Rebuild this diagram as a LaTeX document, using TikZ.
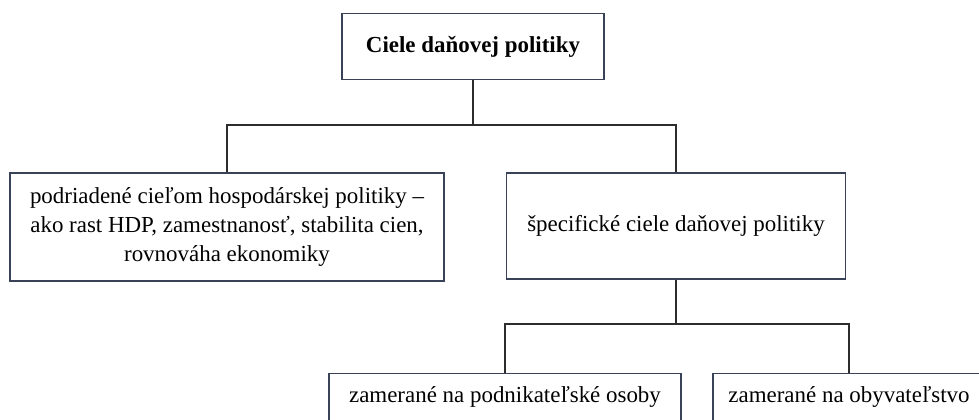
\documentclass[tikz,border=0pt]{standalone}
\usepackage{fontspec}
\setmainfont{Liberation Serif}
\definecolor{box_c}{RGB}{58,66,88}
\definecolor{line_c}{RGB}{45,45,45}
\usepackage{tikz}
\usetikzlibrary{positioning}

\begin{document}
\begin{tikzpicture}[
			x=0.75pt, y=-0.75pt,
			box/.style = {draw=box_c, line width=0.8pt, align=center,
				font=\fontsize{17.2}{21.5}\selectfont, inner sep=3pt},
			leaf/.style = {box, anchor=north, text height=18pt, text depth=40pt, inner ysep=3.5pt},
			link/.style = {draw=line_c, line width=0.8pt},
			]
			\useasboundingbox (0,0) rectangle (979,420);
			\clip (0,0) rectangle (979,420);
			% boxes
			\node[box, minimum width=196.5pt, minimum height=50pt,
				font=\fontsize{17.2}{21.5}\selectfont\bfseries] (goals) at (473,46.5) {Ciele daňovej politiky};
			\node[box, minimum width=325.5pt, minimum height=81pt] (sub) at (227,227)
				{podriadené cieľom hospodárskej politiky –\\ako rast HDP, zamestnanosť, stabilita cien,\\rovnováha ekonomiky};
			\node[box, minimum width=254pt, minimum height=79.5pt] (spec) at (676,226) {špecifické ciele daňovej politiky};
			\node[leaf, minimum width=264pt] (firms) at (505,373) {zamerané na podnikateľské osoby};
			\node[leaf, minimum width=204pt] (people) at (849,373) {zamerané na obyvateľstvo};
			% splits
			\coordinate (split1) at (473,125);
			\coordinate (split2) at (676,324);
			% edges
			\path[link] (goals.south) -- (split1) -| (sub.north);
			\path[link] (split1) -| (spec.north);
			\path[link] (spec.south) -- (split2) -| (firms.north);
			\path[link] (split2) -| (people.north);
		\end{tikzpicture}
\end{document}
